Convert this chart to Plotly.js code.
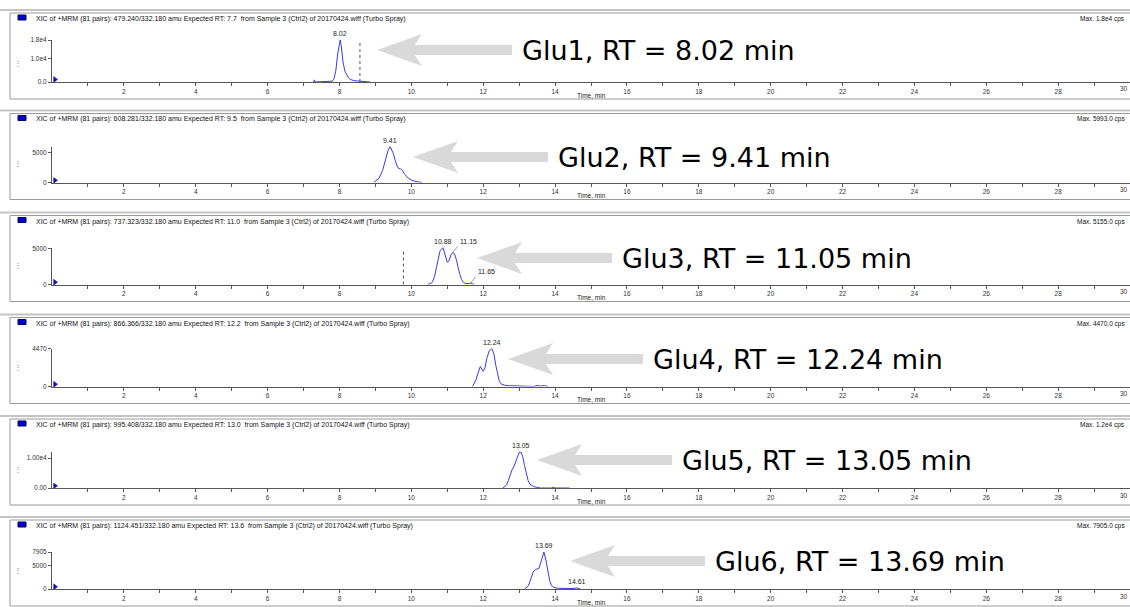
<!DOCTYPE html>
<html><head><meta charset="utf-8">
<script src="https://cdn.plot.ly/plotly-3.0.1.min.js"></script>
<style>html,body{margin:0;padding:0;background:#fff}#chart{width:1130px;height:607px}</style>
</head><body><div id="chart"></div>
<script>
// ---- Data ----
const headers = [
 "XIC of +MRM (81 pairs): 479.240/332.180 amu Expected RT: 7.7  from Sample 3 (Ctrl2) of 20170424.wiff (Turbo Spray)",
 "XIC of +MRM (81 pairs): 608.281/332.180 amu Expected RT: 9.5  from Sample 3 (Ctrl2) of 20170424.wiff (Turbo Spray)",
 "XIC of +MRM (81 pairs): 737.323/332.180 amu Expected RT: 11.0  from Sample 3 (Ctrl2) of 20170424.wiff (Turbo Spray)",
 "XIC of +MRM (81 pairs): 866.366/332.180 amu Expected RT: 12.2  from Sample 3 (Ctrl2) of 20170424.wiff (Turbo Spray)",
 "XIC of +MRM (81 pairs): 995.408/332.180 amu Expected RT: 13.0  from Sample 3 (Ctrl2) of 20170424.wiff (Turbo Spray)",
 "XIC of +MRM (81 pairs): 1124.451/332.180 amu Expected RT: 13.6  from Sample 3 (Ctrl2) of 20170424.wiff (Turbo Spray)"
];
const maxLabels = ["Max. 1.8e4 cps","Max. 5993.0 cps","Max. 5155.0 cps","Max. 4470.0 cps","Max. 1.2e4 cps","Max. 7905.0 cps"];
const yMax = [18000, 5993, 5155, 4470, 12000, 7905];
const yTickVals = [[0,10000,18000],[0,5000],[0,5000],[0,4470],[0,10000],[0,5000,7905]];
const yTickText = [["0.0","1.0e4","1.8e4"],["0","5000"],["0","5000"],["0","4470"],["0.00","1.00e4"],["0","5000","7905"]];
const callouts = ["Glu1, RT = 8.02 min","Glu2, RT = 9.41 min","Glu3, RT = 11.05 min","Glu4, RT = 12.24 min","Glu5, RT = 13.05 min","Glu6, RT = 13.69 min"];
const xTickVals = [1,2,3,4,5,6,7,8,9,10,11,12,13,14,15,16,17,18,19,20,21,22,23,24,25,26,27,28,29,30];
const xTickText = ["","2","","4","","6","","8","","10","","12","","14","","16","","18","","20","","22","","24","","26","","28","",""];
const lastTick = "30";

const x1 = [7.28,7.3,7.32,7.5,7.6,7.65,7.7,7.8,7.85,7.9,7.95,8.0,8.02,8.05,8.1,8.15,8.2,8.25,8.3,8.4,8.5,8.6,8.7,8.8,8.85];
const y1 = [0,900,0,100,250,150,300,350,1500,5000,12000,17300,18000,15500,8500,4700,2900,1800,1100,600,450,350,300,250,0];
const x2 = [8.95,9.0,9.1,9.2,9.3,9.35,9.41,9.5,9.55,9.6,9.65,9.7,9.75,9.8,9.9,10.0,10.1,10.2,10.3];
const y2 = [0,200,700,2000,4200,5300,5993,4800,3700,2800,2300,2300,2000,1500,800,400,200,150,0];
const x3 = [10.45,10.55,10.6,10.65,10.7,10.75,10.8,10.88,10.95,11.0,11.05,11.1,11.15,11.2,11.25,11.3,11.35,11.4,11.45,11.5,11.55,11.6,11.65,11.7,11.75];
const y3 = [0,150,500,1200,2400,3700,4700,5155,4000,3100,3300,4100,4450,4300,3500,2400,1400,700,300,150,100,120,200,80,0];
const x4 = [11.7,11.8,11.85,11.92,12.0,12.05,12.1,12.17,12.24,12.3,12.35,12.4,12.45,12.5,12.6,12.7,12.8,12.9,13.0,13.1,13.2,13.4,13.5,13.6,13.7,13.8];
const y4 = [0,800,1500,2350,1800,2200,3300,4200,4470,3800,2500,1300,600,300,150,100,80,120,60,50,0,0,120,60,110,0];
const x5 = [12.55,12.65,12.7,12.75,12.8,12.85,12.9,12.95,13.0,13.05,13.1,13.15,13.2,13.25,13.3,13.4,13.5,13.6,13.9,13.95,14.0,14.2,14.25,14.3,14.35,14.4];
const y5 = [0,1000,2500,4500,6000,7000,8500,10500,11800,12000,10500,7500,4500,2500,1300,500,200,0,0,250,0,0,250,100,250,0];
const x6 = [13.15,13.25,13.3,13.35,13.4,13.47,13.55,13.6,13.65,13.69,13.75,13.8,13.85,13.9,14.0,14.1,14.2,14.3,14.4,14.5,14.61,14.7];
const y6 = [0,600,1600,2800,3800,4200,4400,5600,7200,7905,6000,3600,1800,700,250,150,100,120,80,100,220,0];
const seriesX = [x1,x2,x3,x4,x5,x6];
const seriesY = [y1,y2,y3,y4,y5,y6];
const peakX = [[8.02],[9.41],[10.88,11.15,11.65],[12.24],[13.05],[13.69,14.61]];
const peakY = [[18000],[5993],[5155,4450,200],[4470],[12000],[7905,220]];
const peakLeader = [[false],[false],[false,true,true],[false],[false],[false,false]];
const markerLines = [[8.57],[],[9.78],[],[],[]];

// ---- Layout geometry (pixels) ----
const W = 1130, H = 607;
const base = [82, 182.5, 284.5, 386.5, 488, 589];
const plotH = [42, 36, 37, 38, 36, 37];
const arrowTip = [[377,50],[413,157],[477,258],[508,359],[537,460],[570,561]];
const pxX = v => v / W, pxY = v => 1 - v / H;

const data = [], shapes = [], annotations = [];
const layout = {width: W, height: H, margin: {l:0,r:0,t:0,b:0}, autosize:false,
  paper_bgcolor:"#ffffff", plot_bgcolor:"rgba(0,0,0,0)", showlegend:false,
  font:{family:"Arial, Liberation Sans, sans-serif", size:7, color:"#222"}};

for (let i = 0; i < 6; i++) {
  const n = i + 1, xa = "x" + (n === 1 ? "" : n), ya = "y" + (n === 1 ? "" : n);
  const top = base[i] - plotH[i];
  layout["xaxis" + (n === 1 ? "" : n)] = {
    domain: [52 / W, 1], range: [0, 30], anchor: ya, showgrid: false, zeroline: false,
    showline: true, linecolor: "#555", linewidth: 1, ticks: "outside", ticklen: 3, tickcolor: "#555",
    tickvals: xTickVals, ticktext: xTickText, tickfont: {size: 6.5, color: "#333"}, fixedrange: true
  };
  layout["yaxis" + (n === 1 ? "" : n)] = {
    domain: [pxY(base[i]), pxY(top)], range: [0, yMax[i]], anchor: xa, showgrid: false, zeroline: false,
    showline: true, linecolor: "#555", linewidth: 1, ticks: "outside", ticklen: 3, tickcolor: "#555",
    tickvals: yTickVals[i], ticktext: yTickText[i], tickfont: {size: 6.5, color: "#333"}, fixedrange: true
  };
  data.push({x: seriesX[i], y: seriesY[i], xaxis: xa, yaxis: ya, type: "scatter", mode: "lines",
    line: {color: "#3a3ae6", width: 1}, hoverinfo: "skip"});
  // origin marker
  data.push({x: [0.08], y: [yMax[i] * 0.06], xaxis: xa, yaxis: ya, type: "scatter", mode: "markers",
    marker: {symbol: "triangle-right", size: 6, color: "#1010c0"}, cliponaxis: false, hoverinfo: "skip"});
  // last tick label at the right edge (kept fully inside the page)
  annotations.push({xref: xa, yref: "paper", x: 30, y: pxY(base[i] + 7), xanchor: "right", yanchor: "middle",
    text: lastTick, showarrow: false, font: {size: 6.5, color: "#333"}});
  // marker (dotted) vertical lines
  markerLines[i].forEach(v => shapes.push({type: "line", xref: xa, yref: ya, x0: v, x1: v, y0: 0, y1: yMax[i] * 0.97,
    line: {color: "#555", width: 1, dash: "dot"}}));
  // panel frame
  shapes.push({type: "rect", xref: "paper", yref: "paper", x0: pxX(10), x1: pxX(1140), y0: pxY(base[i] + 17), y1: pxY(base[i] - 69),
    line: {color: "#9a9a9a", width: 1}, fillcolor: "rgba(0,0,0,0)", layer: "below"});
  shapes.push({type: "line", xref: "paper", yref: "paper", x0: 0, x1: 1, y0: pxY(base[i] - 72), y1: pxY(base[i] - 72),
    line: {color: "#c4c4c4", width: 2}});
  // header square
  shapes.push({type: "rect", xref: "paper", yref: "paper", x0: pxX(18), x1: pxX(26), y0: pxY(base[i] - 62), y1: pxY(base[i] - 67),
    line: {color: "#000060", width: 1}, fillcolor: "#0000d0"});
  annotations.push({xref: "paper", yref: "paper", x: pxX(34), y: pxY(base[i] - 63), xanchor: "left", yanchor: "middle",
    text: headers[i], showarrow: false, font: {size: 7, color: "#111"}});
  annotations.push({xref: "paper", yref: "paper", x: pxX(1127), y: pxY(base[i] - 63), xanchor: "right", yanchor: "middle",
    text: maxLabels[i], showarrow: false, font: {size: 6.5, color: "#111"}});
  annotations.push({xref: "paper", yref: "paper", x: pxX(18), y: pxY(base[i] - 19), xanchor: "center", yanchor: "middle",
    text: "⋮", showarrow: false, font: {size: 8, color: "#777"}});
  annotations.push({xref: xa, yref: "paper", x: 15, y: pxY(base[i] + 13), xanchor: "center", yanchor: "middle",
    text: "Time, min", showarrow: false, font: {size: 6.5, color: "#222"}});
  // peak labels
  peakX[i].forEach((px, k) => {
    if (peakLeader[i][k]) {
      annotations.push({xref: xa, yref: ya, x: px, y: peakY[i][k], text: String(px.toFixed(2)), showarrow: true,
        arrowhead: 0, arrowwidth: 0.6, arrowcolor: "#555", ax: 5, ay: -6, xanchor: "left", yanchor: "bottom",
        font: {size: 7, color: "#222"}});
    } else {
      annotations.push({xref: xa, yref: ya, x: px, y: peakY[i][k], text: String(px.toFixed(2)), showarrow: false,
        yanchor: "bottom", yshift: 1, font: {size: 7, color: "#222"}});
    }
  });
  // big gray arrow + callout
  const [tx, ty] = arrowTip[i];
  const pts = [[tx, ty], [tx + 45, ty - 16], [tx + 38, ty - 5], [tx + 135, ty - 5], [tx + 135, ty + 5], [tx + 38, ty + 5], [tx + 45, ty + 16]];
  shapes.push({type: "path", xref: "paper", yref: "paper",
    path: "M" + pts.map(p => pxX(p[0]) + "," + pxY(p[1])).join(" L") + " Z",
    fillcolor: "#d9d9d9", line: {width: 0}});
  annotations.push({xref: "paper", yref: "paper", x: pxX(tx + 143), y: pxY(ty), xanchor: "left", yanchor: "middle",
    text: callouts[i], showarrow: false, font: {family: "DejaVu Sans, Verdana, sans-serif", size: 27, color: "#000"}});
}
layout.shapes = shapes;
layout.annotations = annotations;
Plotly.newPlot("chart", data, layout, {displayModeBar: false, staticPlot: true});
</script></body></html>
